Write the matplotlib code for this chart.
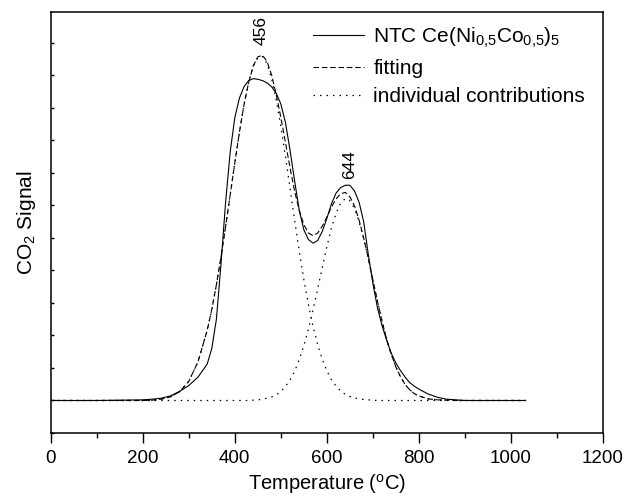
#!/usr/bin/env python3
# CO2 TPD profile with gaussian deconvolution
import matplotlib
matplotlib.use('Agg')
import matplotlib.pyplot as plt

plt.rcParams['font.family'] = ['Liberation Sans', 'DejaVu Sans']
plt.rcParams['mathtext.fontset'] = 'custom'
plt.rcParams['mathtext.rm'] = 'Liberation Sans'
plt.rcParams['mathtext.it'] = 'Liberation Sans:italic'
plt.rcParams['mathtext.default'] = 'rm'

# temperature grid (C)
temps = [0, 100, 150, 200, 220, 240, 260, 280, 300, 320, 340, 350, 360, 370, 380,
         390, 400, 410, 420, 430, 440, 450, 460, 470, 480, 490, 500, 510, 520, 530,
         540, 550, 560, 570, 580, 590, 600, 610, 620, 630, 640, 650, 660, 670, 680,
         690, 700, 710, 720, 730, 740, 750, 760, 770, 780, 790, 800, 820, 840, 860,
         880, 900, 950, 1000, 1032]

# measured signal
ntc = [0, 0, 0.01, 0.02, 0.04, 0.07, 0.14, 0.28, 0.46, 0.72, 1.12, 1.60, 2.50, 4.20, 6.10,
       7.65, 8.70, 9.30, 9.65, 9.84, 9.90, 9.88, 9.84, 9.77, 9.65, 9.45, 9.12, 8.55, 7.70, 6.75,
       5.85, 5.25, 4.95, 4.84, 4.92, 5.20, 5.60, 6.05, 6.38, 6.55, 6.62, 6.62, 6.45, 6.10, 5.50,
       4.50, 3.60, 2.85, 2.30, 1.85, 1.45, 1.15, 0.92, 0.72, 0.55, 0.44, 0.35, 0.20, 0.10, 0.04,
       0.02, 0, 0, 0, 0]

# first contribution (456)
contrib1 = [0, 0, 0, 0, 0.01, 0.04, 0.11, 0.27, 0.59, 1.19, 2.16, 2.80, 3.56, 4.42, 5.35,
            6.33, 7.31, 8.25, 9.10, 9.78, 10.28, 10.55, 10.58, 10.36, 9.90, 9.24, 8.43, 7.51, 6.53, 5.54,
            4.60, 3.72, 2.95, 2.28, 1.72, 1.27, 0.91, 0.64, 0.44, 0.29, 0.19, 0.12, 0.08, 0.05, 0.03,
            0.02, 0.01, 0, 0, 0, 0, 0, 0, 0, 0, 0, 0, 0, 0, 0,
            0, 0, 0, 0, 0]

# second contribution (644)
contrib2 = [0, 0, 0, 0, 0, 0, 0, 0, 0, 0, 0, 0, 0, 0, 0,
            0, 0, 0, 0, 0, 0.01, 0.02, 0.04, 0.07, 0.11, 0.17, 0.28, 0.43, 0.63, 0.90,
            1.25, 1.69, 2.20, 2.79, 3.43, 4.09, 4.73, 5.31, 5.76, 6.07, 6.21, 6.15, 5.91, 5.50, 4.97,
            4.36, 3.70, 3.05, 2.43, 1.88, 1.42, 1.03, 0.73, 0.49, 0.33, 0.21, 0.14, 0.05, 0.02, 0.01,
            0, 0, 0, 0, 0]

fitting = [a + b for a, b in zip(contrib1, contrib2)]

fig = plt.figure(figsize=(6.27, 5), dpi=100)
ax = fig.add_axes([0.0809, 0.134, 0.8808, 0.842])

ax.plot(temps, ntc, color='black', lw=0.8, label='NTC Ce(Ni$_{0{,}5}$Co$_{0{,}5}$)$_5$')
ax.plot(temps, fitting, color='black', lw=0.8, linestyle=(0, (5, 2.5)), label='fitting')
ax.plot(temps, contrib1, color='black', lw=0.9, linestyle=(0, (1.2, 4)),
        label='individual contributions')
ax.plot(temps, contrib2, color='black', lw=0.9, linestyle=(0, (1.2, 4)))

ax.text(457, 11.38, '456', rotation=90, ha='center', va='center', fontsize=12.5)
ax.text(650, 7.25, '644', rotation=90, ha='center', va='center', fontsize=12.5)

ax.set_xlim(0, 1200)
ax.set_ylim(-1, 11.95)
ax.set_xticks(range(0, 1201, 200))
ax.set_xticks(range(100, 1200, 200), minor=True)
ax.set_yticks(range(-1, 12))
ax.set_yticklabels([])
ax.tick_params(axis='x', which='major', direction='out', length=7, width=1,
               labelsize=13.5, pad=5)
ax.tick_params(axis='x', which='minor', direction='out', length=3.5, width=1)
ax.tick_params(axis='y', direction='in', length=2.5, width=1)
for s in ax.spines.values():
    s.set_linewidth(1.1)

ax.set_xlabel('Temperature ($^o$C)', fontsize=14.5, labelpad=4)
ax.set_ylabel('CO$_2$ Signal', fontsize=15, labelpad=6)

ax.legend(loc='upper left', bbox_to_anchor=(0.475, 0.968), frameon=False,
          fontsize=15, handlelength=2.45, handletextpad=0.45, labelspacing=0.45,
          borderpad=0, borderaxespad=0)

fig.savefig('out.png', dpi=100)
